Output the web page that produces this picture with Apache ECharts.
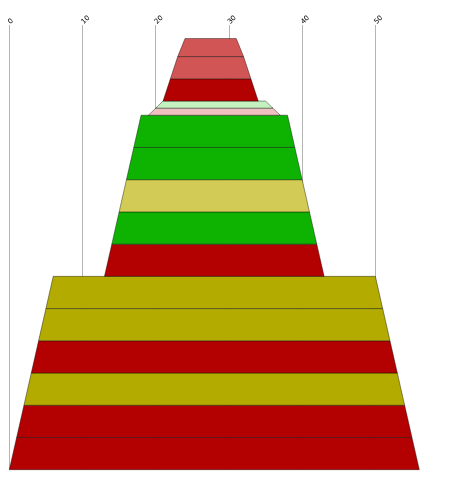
<!DOCTYPE html>
<html>
<head>
<meta charset="utf-8">
<script src="https://cdn.jsdelivr.net/npm/echarts@6/dist/echarts.min.js"></script>
<style>
    html, body { margin: 0; padding: 0; background: #fff; }
    #chart { width: 452px; height: 477px; }
</style>
</head>
<body>
<div id="chart"></div>
<script>
    // bands from bottom to top
    var bandHeights = [10, 10, 10, 10, 10, 10, 10, 10, 10, 10, 10, 2.2, 2.2, 6.9, 6.9, 5.6];
    var bandCentres = [28, 28, 28, 28, 28, 28, 28, 28, 28, 28, 28, 28, 28, 27.5, 27.5, 27.5];
    var bottomWidths = [56, 54, 52, 50, 48, 46, 30, 28, 26, 24, 22, 18, 16, 13, 11, 9];
    var topWidths = [54, 52, 50, 48, 46, 44, 28, 26, 24, 22, 20, 16, 14, 11, 9, 7];
    var bandColors = ['#b30000', '#b30000', '#b3ab00', '#b30000', '#b3ab00', '#b3ab00',
                      '#b30000', '#0db300', '#d2cb55', '#0db300', '#0db300',
                      '#f0c0c0', '#c5f0c0', '#b30000', '#d25555', '#d25555'];
    var tickValues = [0, 10, 20, 30, 40, 50];

    var rows = [];
    var y = 0;
    for (var i = 0; i < bandHeights.length; i++) {
        rows.push([y, y + bandHeights[i], bandCentres[i], bottomWidths[i], topWidths[i]]);
        y += bandHeights[i];
    }

    var myChart = echarts.init(document.getElementById('chart'));

    var option = {
        animation: false,
        grid: { left: 9.3, right: 32.7, top: 25, bottom: 7.3, outerBoundsMode: 'none' },
        xAxis: {
            type: 'value',
            position: 'top',
            min: 0,
            max: 56,
            interval: 10,
            axisLine: { show: false },
            axisTick: { show: false },
            axisLabel: {
                rotate: 45,
                margin: 2,
                fontSize: 7,
                color: '#000',
                fontFamily: 'DejaVu Sans',
                showMaxLabel: false,
                formatter: function (v) { return tickValues.indexOf(v) >= 0 ? String(v) : ''; }
            },
            splitLine: {
                show: true,
                lineStyle: { color: ['#b4b4b4', '#b4b4b4', '#b4b4b4', '#b4b4b4', '#b4b4b4', '#b4b4b4', 'rgba(0,0,0,0)'], width: 1 }
            }
        },
        yAxis: {
            type: 'value',
            min: 0,
            max: 138,
            show: false
        },
        series: [{
            type: 'custom',
            data: rows,
            renderItem: function (params, api) {
                var y0 = api.value(0), y1 = api.value(1), c = api.value(2);
                var wb = api.value(3) / 2, wt = api.value(4) / 2;
                var pts = [
                    api.coord([c - wb, y0]),
                    api.coord([c + wb, y0]),
                    api.coord([c + wt, y1]),
                    api.coord([c - wt, y1])
                ];
                return {
                    type: 'polygon',
                    shape: { points: pts },
                    style: {
                        fill: bandColors[params.dataIndex],
                        stroke: 'rgba(0,0,0,0.4)',
                        lineWidth: 1
                    }
                };
            }
        }]
    };

    myChart.setOption(option);
</script>
</body>
</html>
